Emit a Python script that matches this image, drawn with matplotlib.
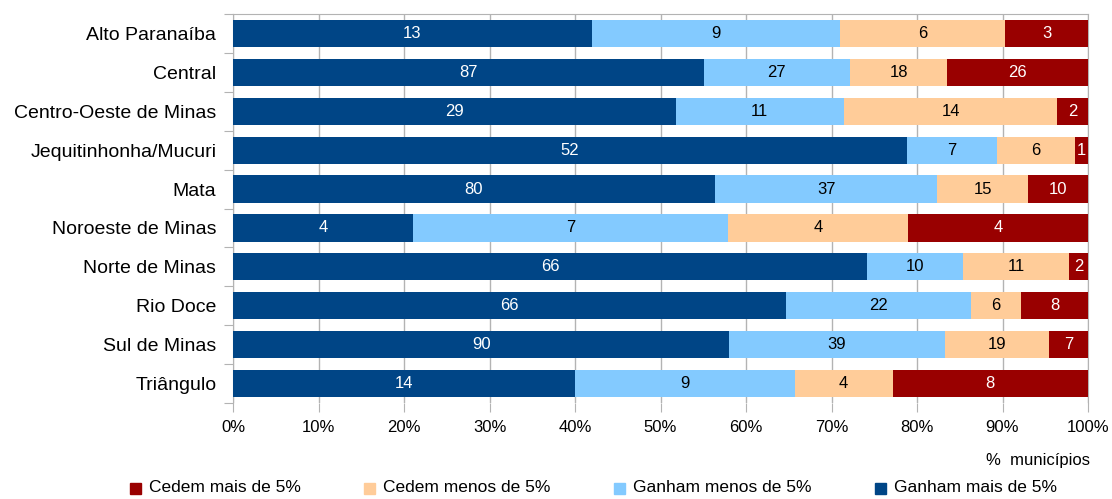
import matplotlib.pyplot as plt
from matplotlib.patches import Rectangle
import numpy as np

regioes = ["Alto Paranaíba", "Central", "Centro-Oeste de Minas", "Jequitinhonha/Mucuri",
           "Mata", "Noroeste de Minas", "Norte de Minas", "Rio Doce", "Sul de Minas", "Triângulo"]
ganham_mais = [13, 87, 29, 52, 80, 4, 66, 66, 90, 14]
ganham_menos = [9, 27, 11, 7, 37, 7, 10, 22, 39, 9]
cedem_menos = [6, 18, 14, 6, 15, 4, 11, 6, 19, 4]
cedem_mais = [3, 26, 2, 1, 10, 4, 2, 8, 7, 8]

series = [
    ("Ganham mais de 5%", ganham_mais, "#004586", "white"),
    ("Ganham menos de 5%", ganham_menos, "#83CAFF", "black"),
    ("Cedem menos de 5%", cedem_menos, "#FFCC99", "black"),
    ("Cedem mais de 5%", cedem_mais, "#990000", "white"),
]

plt.rcParams['font.family'] = ["Liberation Sans", "DejaVu Sans"]

W, H = 1112, 499
fig = plt.figure(figsize=(W / 100, H / 100), dpi=100)
ax = fig.add_axes([233 / W, 1 - 403 / H, 855 / W, 389 / H])

totals = np.sum([s[1] for s in series], axis=0)
y = np.arange(len(regioes))
left = np.zeros(len(regioes))
for name, vals, color, tcolor in series:
    frac = np.array(vals) / totals
    ax.barh(y, frac, left=left, height=0.7, color=color, zorder=3)
    for yi, (l, f, v) in enumerate(zip(left, frac, vals)):
        ax.text(l + f / 2, yi, str(v), ha='center', va='center', color=tcolor, fontsize=12, zorder=4)
    left += frac

ax.set_ylim(len(regioes) - 0.5, -0.5)
ax.set_xlim(0, 1)
ax.set_yticks(np.arange(-0.5, len(regioes)))
ax.set_yticklabels([])
ax.set_yticks(y, minor=True)
ax.set_yticklabels(regioes, minor=True, fontsize=14)
ax.tick_params(axis='y', which='minor', length=0, pad=12)
ax.tick_params(axis='y', which='major', length=6.5, color='#b3b3b3', direction='out')

xt = np.arange(0, 1.01, 0.1)
ax.set_xticks(xt)
ax.set_xticklabels([f"{int(round(t * 100))}%" for t in xt], fontsize=12)
ax.tick_params(axis='x', length=6.5, color='#b3b3b3', pad=6)
ax.grid(axis='x', color='#b3b3b3', linewidth=1, zorder=0)

for side in ['left', 'top', 'right']:
    ax.spines[side].set_color('#b3b3b3')
ax.spines['bottom'].set_visible(False)

fig.text(1038 / W, 1 - 460 / H, "%  municípios", fontsize=12, ha='center', va='center')

# legend drawn by hand to match the spacing of the original
leg_x = [130, 364, 614, 875]
for (name, vals, color, tcolor), x0 in zip(reversed(series), leg_x):
    fig.patches.append(Rectangle((x0 / W, 1 - 494 / H), 11 / W, 11 / H, color=color,
                                 transform=fig.transFigure, figure=fig))
    fig.text((x0 + 19) / W, 1 - 488 / H, name, fontsize=12.5, ha='left', va='center')

fig.savefig("out.png", dpi=100)
